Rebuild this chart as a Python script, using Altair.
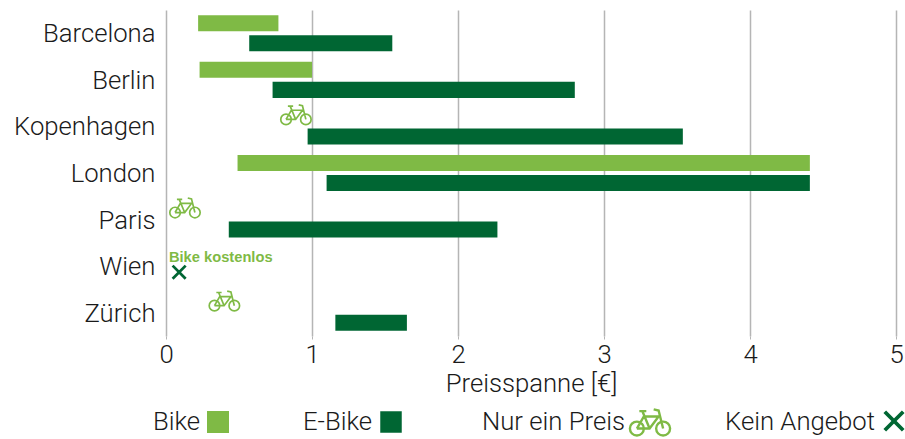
import altair as alt
import pandas as pd

# Price ranges per city and bike type
cities = ["Barcelona", "Berlin", "Kopenhagen", "London", "Paris", "Wien", "Zürich"]
bike_cities = ["Barcelona", "Berlin", "London"]
bike_low = [0.22, 0.23, 0.49]
bike_high = [0.77, 1.0, 4.41]
ebike_cities = ["Barcelona", "Berlin", "Kopenhagen", "London", "Paris", "Zürich"]
ebike_low = [0.57, 0.73, 0.97, 1.10, 0.43, 1.16]
ebike_high = [1.55, 2.80, 3.54, 4.41, 2.27, 1.65]

# Cities with one single bike price, and the one without an e-bike offer
single_cities = ["Kopenhagen", "Paris", "Zürich"]
single_price = [0.89, 0.13, 0.40]
none_cities = ["Wien"]
none_price = [0.09]
free_note = "Bike kostenlos"
free_price = [0.02]

GREEN = "#7fba45"
DARK = "#006633"
INK = "#1a1a1a"
FONT = "Roboto"
LIGHT = 300
TEXT_SIZE = 25.7

BIKE_PATH = (
    "M-0.98,0.32a0.34,0.34 0 1 0 0.68,0a0.34,0.34 0 1 0 -0.68,0Z"
    "M0.3,0.32a0.34,0.34 0 1 0 0.68,0a0.34,0.34 0 1 0 -0.68,0Z"
    "M-0.64,0.32L-0.02,0.32L0.42,-0.27L-0.3,-0.27L-0.64,0.32"
    "M-0.02,0.32L-0.36,-0.5"
    "M-0.52,-0.53L-0.18,-0.53"
    "M0.18,-0.62L0.42,-0.56L0.64,0.32"
)
CROSS_PATH = "M-1,-1L1,1M-1,1L1,-1"

bars = pd.concat([
    pd.DataFrame({"city": bike_cities, "low": bike_low, "high": bike_high, "art": "Bike"}),
    pd.DataFrame({"city": ebike_cities, "low": ebike_low, "high": ebike_high, "art": "E-Bike"}),
])
single = pd.DataFrame({"city": single_cities, "price": single_price})
missing = pd.DataFrame({"city": none_cities, "price": none_price})
note = pd.DataFrame({"city": none_cities, "price": free_price, "label": [free_note]})

x_scale = alt.Scale(domain=[0, 5], nice=False, zero=True)
y_scale = alt.Scale(domain=cities, paddingInner=0.14, paddingOuter=0.07)

x_enc = alt.X(
    "low:Q",
    scale=x_scale,
    title="Preisspanne [€]",
    axis=alt.Axis(
        values=[0, 1, 2, 3, 4, 5],
        format="d",
        grid=True,
        gridColor="#b5b5b5",
        gridWidth=1.5,
        domain=False,
        tickColor="#b5b5b5",
        tickSize=3,
        labelFont=FONT,
        labelFontSize=TEXT_SIZE,
        labelFontWeight=LIGHT,
        labelColor=INK,
        labelPadding=3,
        labelFlush=False,
        titleFont=FONT,
        titleFontSize=TEXT_SIZE,
        titleFontWeight=LIGHT,
        titleColor=INK,
        titlePadding=5,
    ),
)
y_enc = alt.Y(
    "city:N",
    scale=y_scale,
    sort=cities,
    title=None,
    axis=alt.Axis(
        domain=False,
        ticks=False,
        labelFont=FONT,
        labelFontSize=TEXT_SIZE,
        labelFontWeight=LIGHT,
        labelColor=INK,
        labelPadding=11,
        labelOffset=1,
    ),
)

bar_layer = alt.Chart(bars).mark_bar().encode(
    x=x_enc,
    x2="high:Q",
    y=y_enc,
    yOffset=alt.YOffset(
        "art:N",
        scale=alt.Scale(domain=["Bike", "E-Bike"], paddingInner=0.2, paddingOuter=0.1),
    ),
    color=alt.Color("art:N", scale=alt.Scale(domain=["Bike", "E-Bike"], range=[GREEN, DARK]), legend=None),
)

bike_layer = alt.Chart(single).mark_point(
    shape=BIKE_PATH, size=960, stroke=GREEN, strokeWidth=1.7, fill=None, filled=False, opacity=1, yOffset=-12
).encode(
    x=alt.X("price:Q", scale=x_scale),
    y=alt.Y("city:N", scale=y_scale, sort=cities),
)

cross_layer = alt.Chart(missing).mark_point(
    shape=CROSS_PATH, size=170, stroke=DARK, strokeWidth=2.8, fill=None, filled=False, opacity=1, yOffset=6
).encode(
    x=alt.X("price:Q", scale=x_scale),
    y=alt.Y("city:N", scale=y_scale, sort=cities),
)

note_layer = alt.Chart(note).mark_text(
    font="Liberation Sans", fontSize=14.7, fontWeight="bold", color=GREEN, align="left", baseline="middle", yOffset=-8
).encode(
    x=alt.X("price:Q", scale=x_scale),
    y=alt.Y("city:N", scale=y_scale, sort=cities),
    text="label:N",
)


def legend_text(label, left, top):
    return alt.Chart(pd.DataFrame({"label": [label]})).mark_text(
        font=FONT, fontSize=TEXT_SIZE, fontWeight=LIGHT, color=INK, align="left", baseline="middle"
    ).encode(x=alt.value(left), y=alt.value(top), text="label:N")


def legend_symbol(shape, size, left, top, **style):
    return alt.Chart(pd.DataFrame({"k": [shape]})).mark_point(
        shape=shape, size=size, opacity=1, **style
    ).encode(x=alt.value(left), y=alt.value(top))


LEGEND_Y = 412
legend_layers = [
    legend_text("Bike", -13, LEGEND_Y),
    legend_symbol("square", 484, 52, LEGEND_Y, fill=GREEN, filled=True, strokeWidth=0),
    legend_text("E-Bike", 137, LEGEND_Y),
    legend_symbol("square", 462, 225, LEGEND_Y, fill=DARK, filled=True, strokeWidth=0),
    legend_text("Nur ein Preis", 316, LEGEND_Y),
    legend_symbol(BIKE_PATH, 1681, 484, LEGEND_Y, stroke=GREEN, strokeWidth=2.4, fill=None, filled=False),
    legend_text("Kein Angebot", 559, LEGEND_Y),
    legend_symbol(CROSS_PATH, 340, 728, LEGEND_Y - 1, stroke=DARK, strokeWidth=3.8, fill=None, filled=False),
]

chart = alt.layer(
    bar_layer, bike_layer, cross_layer, note_layer, *legend_layers
).resolve_scale(
    x="shared", y="shared"
).properties(
    width=730,
    height=326,
    background="white",
    padding={"left": 166, "top": 10, "right": 9, "bottom": 103},
    autosize=alt.AutoSizeParams(type="none"),
).configure_view(stroke=None)

chart.save("out.html", embed_options={"renderer": "svg", "actions": False})
